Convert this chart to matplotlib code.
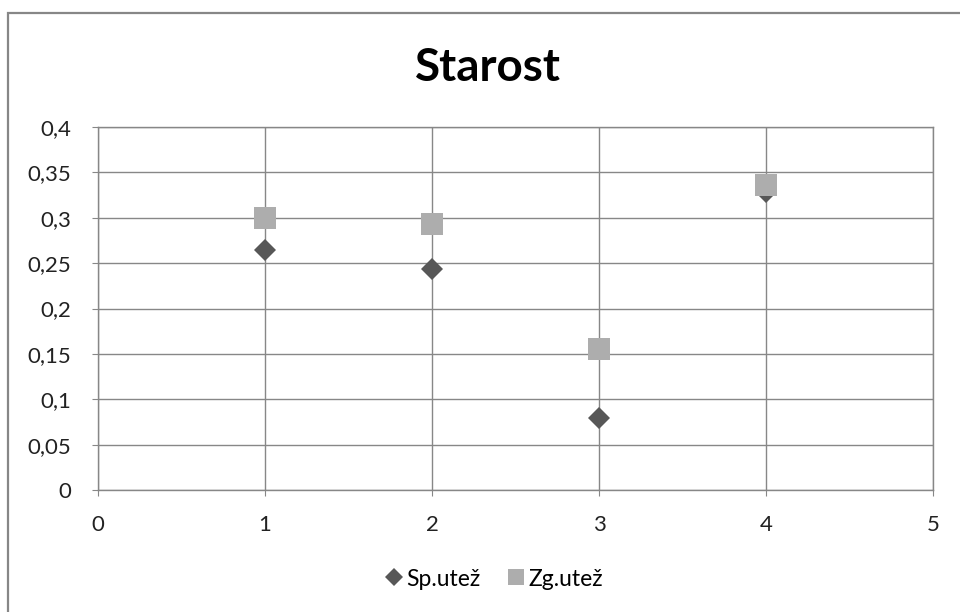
import matplotlib
matplotlib.use("Agg")
import matplotlib.pyplot as plt
from matplotlib.ticker import FuncFormatter, MultipleLocator
from matplotlib.patches import Rectangle
from matplotlib.lines import Line2D

plt.rcParams['font.family'] = ['Lato', 'DejaVu Sans']

title = "Starost"
x_vals = [1, 2, 3, 4]
sp_utez = [0.264, 0.244, 0.079, 0.328]
zg_utez = [0.300, 0.293, 0.155, 0.336]
series_names = ["Sp.utež", "Zg.utež"]

fig = plt.figure(figsize=(9.6, 6.12), dpi=100)
# outer chart border
fig.patches.append(Rectangle((8/960, -0.1), 1.2, 1 - 13/612 + 0.1,
                             transform=fig.transFigure, fill=False,
                             edgecolor='#878787', linewidth=1.6))

ax = fig.add_axes([98/960, 1 - 490/612, (933-98)/960, (490-127)/612])
ax.set_xlim(0, 5)
ax.set_ylim(0, 0.4)
ax.xaxis.set_major_locator(MultipleLocator(1))
ax.yaxis.set_major_locator(MultipleLocator(0.05))
fmt = FuncFormatter(lambda v, p: ('{:g}'.format(round(v, 4))).replace('.', ','))
ax.xaxis.set_major_formatter(fmt)
ax.yaxis.set_major_formatter(fmt)
ax.grid(True, color='#878787', linewidth=1.0)
ax.set_axisbelow(True)
for s in ax.spines.values():
    s.set_color('#878787')
    s.set_linewidth(1.0)
ax.tick_params(axis='y', length=4, color='#878787', pad=15, labelsize=16, labelcolor='#222222')
ax.tick_params(axis='x', length=4, color='#878787', pad=14, labelsize=16, labelcolor='#222222')

ax.plot(x_vals, sp_utez, linestyle='none', marker='D', markersize=11,
        markerfacecolor='#575757', markeredgewidth=0, color='#575757', zorder=3)
ax.plot(x_vals, zg_utez, linestyle='none', marker='s', markersize=15.5,
        markerfacecolor='#adadad', markeredgewidth=0, color='#adadad', zorder=4)

fig.text(488/960, 1 - 68/612, title, ha='center', va='center',
         fontsize=33, fontweight='bold', color='#000000')

handles = [Line2D([], [], linestyle='none', marker='D', markersize=9, color='#575757', markeredgewidth=0),
           Line2D([], [], linestyle='none', marker='s', markersize=12, color='#adadad', markeredgewidth=0)]
fig.legend(handles, series_names, loc='center', bbox_to_anchor=(492/960, 1 - 579/612),
           ncol=2, frameon=False, fontsize=16.5, handletextpad=0.0, columnspacing=1.0,
           handlelength=1.1)

fig.savefig('out.png', dpi=100)
